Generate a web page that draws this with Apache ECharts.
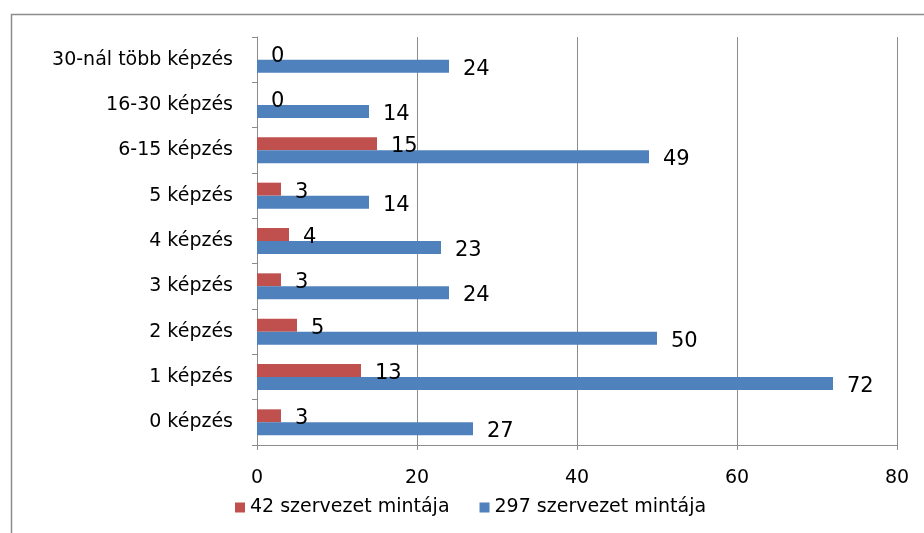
<!DOCTYPE html>
<html lang="hu">
<head>
    <meta charset="UTF-8">
    <title>Képzések száma</title>
    <script src="https://cdn.jsdelivr.net/npm/echarts@6/dist/echarts.min.js"></script>
    <style>
        html, body {
            margin: 0;
            padding: 0;
            background: #fff;
        }

        #chart {
            width: 924px;
            height: 533px;
        }
    </style>
</head>
<body>
    <div id="chart"></div>

    <script>
        // kategóriák alulról felfelé
        const categories = ['0 képzés', '1 képzés', '2 képzés', '3 képzés', '4 képzés', '5 képzés', '6-15 képzés', '16-30 képzés', '30-nál több képzés'];
        const sample42 = [3, 13, 5, 3, 4, 3, 15, 0, 0];
        const sample297 = [27, 72, 50, 24, 23, 14, 49, 14, 24];
        const seriesNames = ['42 szervezet mintája', '297 szervezet mintája'];
        const xTicks = [0, 20, 40, 60, 80];

        const font = 'DejaVu Sans';
        const chart = echarts.init(document.getElementById('chart'));

        const labelStyle = {
            show: true,
            position: 'right',
            distance: 14,
            offset: [0, 3],
            fontFamily: font,
            fontSize: 21,
            color: '#000'
        };

        const option = {
            animation: false,
            graphic: [{
                type: 'rect',
                left: 9,
                top: 12,
                shape: { width: 1000, height: 600 },
                style: { fill: 'none', stroke: '#8c8c8c', lineWidth: 1.5 },
                silent: true
            }],
            legend: {
                data: seriesNames,
                bottom: 11,
                left: 230,
                itemWidth: 10,
                itemHeight: 10,
                itemGap: 30,
                icon: 'rect',
                textStyle: { fontFamily: font, fontSize: 19, color: '#000' }
            },
            grid: {
                left: 257,
                right: 27,
                top: 37,
                bottom: 88
            },
            xAxis: {
                type: 'value',
                min: xTicks[0],
                max: xTicks[xTicks.length - 1],
                interval: 20,
                axisLine: { show: true, lineStyle: { color: '#8c8c8c' } },
                axisTick: { show: true, length: 5, lineStyle: { color: '#8c8c8c' } },
                splitLine: { show: true, lineStyle: { color: '#8c8c8c' } },
                axisLabel: { margin: 24, fontFamily: font, fontSize: 19, color: '#000' }
            },
            yAxis: {
                type: 'category',
                data: categories,
                axisLine: { show: true, lineStyle: { color: '#8c8c8c' } },
                axisTick: { show: true, length: 5, lineStyle: { color: '#8c8c8c' } },
                axisLabel: { margin: 24, fontFamily: font, fontSize: 19, color: '#000' }
            },
            series: [
                {
                    name: seriesNames[0],
                    type: 'bar',
                    data: sample42,
                    barWidth: 13,
                    barGap: '0%',
                    itemStyle: { color: '#c0504d' },
                    label: labelStyle
                },
                {
                    name: seriesNames[1],
                    type: 'bar',
                    data: sample297,
                    barWidth: 13,
                    barGap: '0%',
                    itemStyle: { color: '#4f81bd' },
                    label: labelStyle
                }
            ]
        };

        chart.setOption(option);
    </script>
</body>
</html>
